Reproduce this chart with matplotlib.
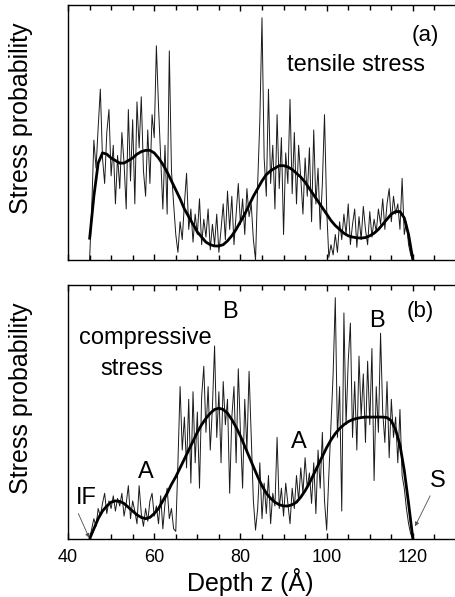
import matplotlib
matplotlib.use("Agg")
import matplotlib.pyplot as plt
import numpy as np
from matplotlib.ticker import MultipleLocator

plt.rcParams["font.family"] = ["Liberation Sans", "DejaVu Sans"]

# depth grid for the raw histograms (0.5 A bins) and the fitted curves (1 A)
Z_START, Z_END = 45.0, 120.0

tensile_raw = [
    0.00, 0.20, 0.47, 0.36, 0.52, 0.67, 0.40, 0.30, 0.50, 0.59,
    0.33, 0.45, 0.22, 0.41, 0.28, 0.50, 0.38, 0.20, 0.59, 0.31,
    0.55, 0.22, 0.62, 0.44, 0.64, 0.35, 0.25, 0.51, 0.30, 0.57,
    0.48, 0.84, 0.60, 0.40, 0.20, 0.45, 0.18, 0.82, 0.35, 0.22,
    0.10, 0.03, 0.15, 0.08, 0.22, 0.34, 0.12, 0.20, 0.07, 0.18,
    0.10, 0.24, 0.06, 0.16, 0.09, 0.20, 0.04, 0.14, 0.06, 0.18,
    0.03, 0.12, 0.22, 0.08, 0.27, 0.12, 0.25, 0.06, 0.18, 0.30,
    0.14, 0.24, 0.10, 0.28, 0.17, 0.22, 0.08, 0.00, 0.30, 0.55,
    0.95, 0.40, 0.25, 0.67, 0.30, 0.45, 0.20, 0.57, 0.28, 0.48,
    0.10, 0.42, 0.30, 0.63, 0.26, 0.50, 0.22, 0.45, 0.32, 0.18,
    0.40, 0.25, 0.44, 0.15, 0.51, 0.22, 0.36, 0.12, 0.30, 0.57,
    0.20, 0.01, 0.06, 0.02, 0.10, 0.03, 0.15, 0.08, 0.18, 0.10,
    0.22, 0.06, 0.14, 0.20, 0.05, 0.17, 0.08, 0.21, 0.12, 0.06,
    0.19, 0.09, 0.16, 0.11, 0.20, 0.14, 0.24, 0.12, 0.22, 0.28,
    0.15, 0.25, 0.18, 0.22, 0.12, 0.32, 0.10, 0.15, 0.06, 0.02,
    0.00,
]

compressive_raw = [
    0.00, 0.04, 0.08, 0.05, 0.12, 0.09, 0.14, 0.18, 0.10, 0.15,
    0.12, 0.17, 0.11, 0.16, 0.13, 0.18, 0.09, 0.14, 0.21, 0.08,
    0.15, 0.11, 0.06, 0.21, 0.10, 0.05, 0.12, 0.07, 0.15, 0.18,
    0.09, 0.13, 0.06, 0.17, 0.04, 0.14, 0.20, 0.08, 0.12, 0.04,
    0.03, 0.30, 0.60, 0.35, 0.48, 0.28, 0.55, 0.22, 0.58, 0.30,
    0.50, 0.20, 0.56, 0.68, 0.42, 0.60, 0.35, 0.52, 0.76, 0.40,
    0.58, 0.30, 0.62, 0.45, 0.55, 0.18, 0.48, 0.60, 0.30, 0.67,
    0.42, 0.20, 0.55, 0.35, 0.66, 0.40, 0.15, 0.035, 0.12, 0.30,
    0.08, 0.22, 0.10, 0.25, 0.06, 0.18, 0.13, 0.40, 0.12, 0.20,
    0.09, 0.22, 0.14, 0.06, 0.20, 0.12, 0.25, 0.15, 0.28, 0.18,
    0.32, 0.20, 0.26, 0.14, 0.30, 0.10, 0.35, 0.20, 0.42, 0.15,
    0.035, 0.25, 0.45, 0.65, 0.95, 0.40, 0.60, 0.11, 0.89, 0.45,
    0.70, 0.85, 0.40, 0.62, 0.35, 0.72, 0.48, 0.65, 0.38, 0.70,
    0.45, 0.75, 0.23, 0.60, 0.42, 0.81, 0.50, 0.38, 0.62, 0.32,
    0.55, 0.40, 0.48, 0.30, 0.51, 0.25, 0.20, 0.12, 0.06, 0.02,
    0.00,
]

tensile_fit = [
    0.08, 0.25, 0.38, 0.42, 0.415, 0.40, 0.39, 0.38, 0.38, 0.39,
    0.40, 0.415, 0.425, 0.43, 0.43, 0.42, 0.40, 0.375, 0.345, 0.31,
    0.275, 0.24, 0.20, 0.17, 0.14, 0.11, 0.09, 0.07, 0.06, 0.055,
    0.055, 0.06, 0.075, 0.095, 0.12, 0.15, 0.18, 0.215, 0.25, 0.28,
    0.31, 0.335, 0.35, 0.36, 0.37, 0.37, 0.365, 0.355, 0.34, 0.325,
    0.305, 0.28, 0.255, 0.23, 0.205, 0.18, 0.155, 0.135, 0.12, 0.105,
    0.095, 0.09, 0.087, 0.086, 0.088, 0.095, 0.105, 0.12, 0.14, 0.16,
    0.18, 0.19, 0.19, 0.165, 0.10, 0.0,
]

compressive_fit = [
    0.0, 0.04, 0.08, 0.11, 0.13, 0.145, 0.15, 0.148, 0.14, 0.125,
    0.11, 0.095, 0.085, 0.08, 0.085, 0.10, 0.12, 0.15, 0.18, 0.215,
    0.245, 0.28, 0.315, 0.35, 0.385, 0.42, 0.45, 0.475, 0.495, 0.51,
    0.515, 0.51, 0.495, 0.47, 0.44, 0.405, 0.365, 0.325, 0.285, 0.245,
    0.21, 0.18, 0.16, 0.145, 0.135, 0.13, 0.13, 0.135, 0.145, 0.165,
    0.19, 0.22, 0.255, 0.29, 0.325, 0.36, 0.39, 0.415, 0.435, 0.45,
    0.462, 0.47, 0.475, 0.478, 0.48, 0.48, 0.48, 0.48, 0.48, 0.478,
    0.465, 0.43, 0.37, 0.27, 0.14, 0.0,
]

z_raw = np.linspace(Z_START, Z_END, len(tensile_raw))
z_fit = np.linspace(Z_START, Z_END, len(tensile_fit))

W, H = 455, 597
fig = plt.figure(figsize=(W / 100, H / 100), dpi=100)


def px_axes(left, top, right, bottom):
    return fig.add_axes([left / W, 1 - bottom / H, (right - left) / W, (bottom - top) / H])


ax_a = px_axes(68, 5, 456, 260)
ax_b = px_axes(68, 285, 456, 539)

for ax, raw, fit in [(ax_a, tensile_raw, tensile_fit), (ax_b, compressive_raw, compressive_fit)]:
    ax.plot(z_raw, raw, color="0.1", lw=0.7)
    ax.plot(z_fit, fit, color="black", lw=2.0, solid_capstyle="butt")
    ax.set_xlim(40, 130)
    ax.set_ylim(0, 1)
    ax.xaxis.set_major_locator(MultipleLocator(20))
    ax.xaxis.set_minor_locator(MultipleLocator(5))
    ax.tick_params(axis="x", which="both", direction="in", top=True, bottom=True,
                   labelsize=13, pad=7)
    ax.tick_params(axis="x", which="major", length=4, width=1)
    ax.tick_params(axis="x", which="minor", length=3.5, width=1)
    ax.set_yticks([])
    for sp in ax.spines.values():
        sp.set_linewidth(1.0)

ax_a.tick_params(axis="x", labelbottom=False)

fig.text(21 / W, 1 - 118 / H, "Stress probability", rotation=90, ha="center", va="center", fontsize=18)
fig.text(21 / W, 1 - 398 / H, "Stress probability", rotation=90, ha="center", va="center", fontsize=18)

ax_b.set_xlabel("Depth z (Å)", fontsize=18)
ax_b.xaxis.set_label_coords(0.469, -0.115)

# panel (a) annotations
ax_a.text(122.8, 0.88, "(a)", ha="center", va="center", fontsize=16)
ax_a.text(106.9, 0.765, "tensile stress", ha="center", va="center", fontsize=17)

# panel (b) annotations
ax_b.text(121.6, 0.895, "(b)", ha="center", va="center", fontsize=16)
ax_b.text(57.9, 0.79, "compressive", ha="center", va="center", fontsize=17)
ax_b.text(54.8, 0.67, "stress", ha="center", va="center", fontsize=17)
ax_b.text(77.6, 0.895, "B", ha="center", va="center", fontsize=17)
ax_b.text(111.6, 0.86, "B", ha="center", va="center", fontsize=17)
ax_b.text(58.1, 0.265, "A", ha="center", va="center", fontsize=17)
ax_b.text(93.6, 0.38, "A", ha="center", va="center", fontsize=17)
ax_b.text(44.3, 0.16, "IF", ha="center", va="center", fontsize=17)
ax_b.text(125.8, 0.23, "S", ha="center", va="center", fontsize=17)

arrow = dict(arrowstyle="-|>", color="0.3", lw=0.6, mutation_scale=6, shrinkA=0, shrinkB=0)
ax_b.annotate("", xy=(44.9, 0.005), xytext=(42.4, 0.10), arrowprops=arrow, annotation_clip=False)
ax_b.annotate("", xy=(120.5, 0.05), xytext=(124.0, 0.17), arrowprops=arrow)

fig.savefig("out.png", dpi=100)
